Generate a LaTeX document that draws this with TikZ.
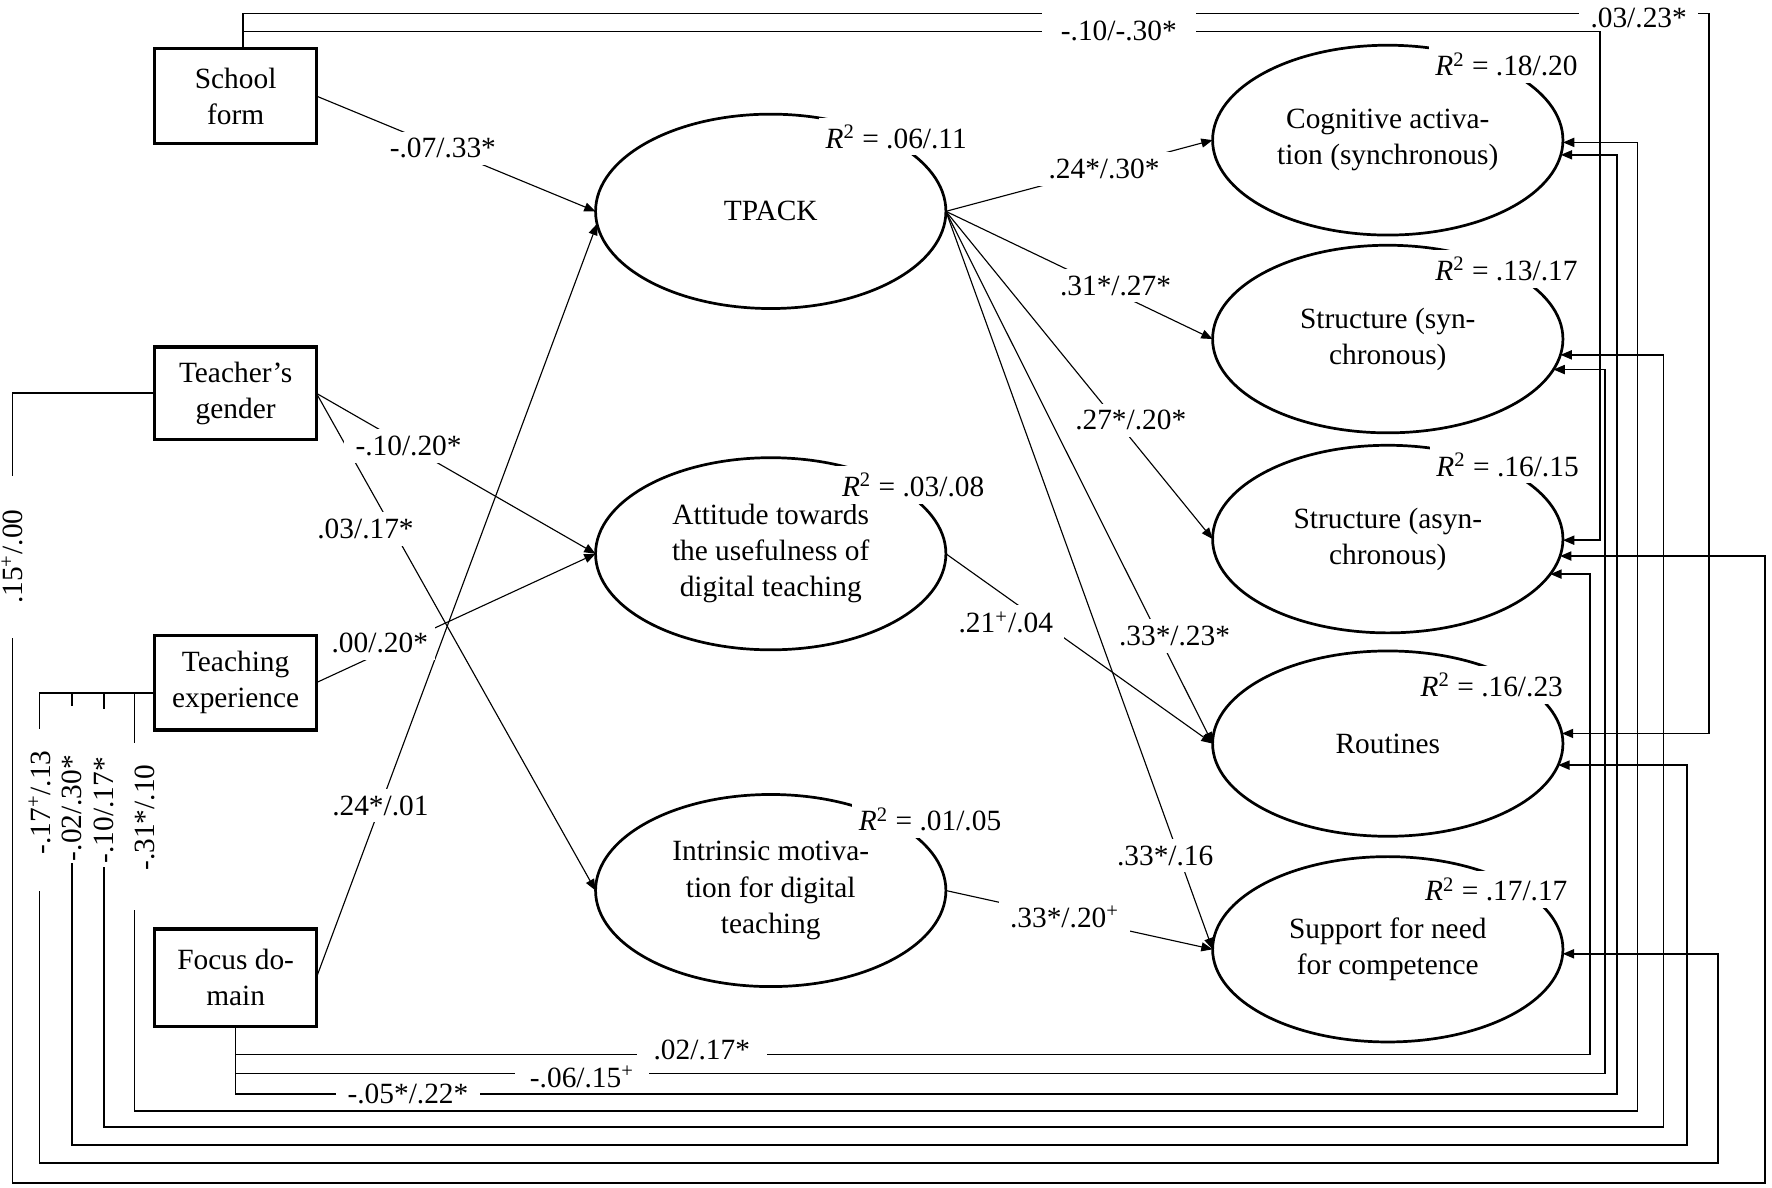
\documentclass[tikz,border=0pt]{standalone}
\usepackage{fontspec}
\setmainfont{Liberation Serif}
\usetikzlibrary{arrows.meta,shapes.geometric,calc}
\newcommand{\vlab}[3]{\hspace*{#1}#2\hspace*{#3}}
\begin{document}
\begin{tikzpicture}[x=0.5pt,y=0.5pt,
  every node/.style={font=\fontsize{13}{16}\selectfont},
  box/.style={draw,line width=1.4pt,minimum width=71.5pt,minimum height=42pt,align=center,inner sep=0pt,outer sep=0pt},
  lat/.style={draw,ellipse,line width=1.2pt,minimum width=155pt,align=center,inner sep=0pt,outer sep=0pt},
  pth/.style={line width=0.5pt,-{Triangle[length=5pt,width=4pt]}},
  cor/.style={line width=0.75pt,-{Triangle[length=5pt,width=4pt]}},
  lbl/.style={fill=white,inner xsep=5pt,inner ysep=3pt},
  rsq/.style={fill=white,inner sep=3pt},
  blbl/.style={fill=white,inner ysep=0.5pt},
  vlbl/.style={fill=white,rotate=90,inner xsep=1pt,inner ysep=2.5pt},
]
\useasboundingbox (0,0) rectangle (1568,-1051);

% observed variables
\node[box] (school) at (208.5,-85) {School\\form};
\node[box,minimum height=41pt] (gender) at (208.5,-348) {Teacher’s\\gender};
\node[box] (exper) at (208.5,-604) {Teaching\\experience};
\node[box,minimum height=43pt] (focus) at (208.5,-865) {Focus do-\\main};

% latent variables
\node[lat,minimum height=86pt] (tpack) at (682,-187) {TPACK};
\node[lat,minimum height=85pt] (att) at (682,-490) {Attitude towards\\the usefulness of\\digital teaching};
\node[lat,minimum height=85pt] (intr) at (682,-788) {Intrinsic motiva-\\tion for digital\\teaching};
\node[lat,minimum height=84pt] (cog) at (1228,-124) {Cognitive activa-\\tion (synchronous)};
\node[lat,minimum height=83pt] (ss) at (1228,-300) {Structure (syn-\\chronous)};
\node[lat,minimum height=83pt] (sa) at (1228,-477) {Structure (asyn-\\chronous)};
\node[lat,minimum height=82pt] (rout) at (1228,-658) {Routines};
\node[lat,minimum height=82pt] (supp) at (1228,-840) {Support for need\\for competence};

% path arrows
\coordinate (tpT) at ($(tpack.center)+(-153.7,-11)$);
\draw[pth] (school.east) -- (tpack.west);
\draw[pth] (focus.east) -- (tpT);
\draw[pth] (gender.east) -- (att.west);
\draw[pth] (gender.east) -- (intr.west);
\draw[pth] (exper.east) -- (att.west);
\draw[pth] (tpack.east) -- (cog.west);
\draw[pth] (tpack.east) -- (ss.west);
\draw[pth] (tpack.east) -- (sa.west);
\draw[pth] (tpack.east) -- (rout.west);
\draw[pth] (tpack.east) -- (supp.west);
\draw[pth] (att.east) -- (rout.west);
\draw[pth] (intr.east) -- (supp.west);

% correlation connectors
\coordinate (sT) at ($(school.north)+(6.5,0)$);
\coordinate (eW) at ($(exper.west)+(0,-9)$);
\draw[cor] (sT) |- (1512,-12) |- ($(rout.center)+(154.1,9)$);
\node[fill=white,inner xsep=5pt,inner ysep=0pt] (c1l) at (1450,-16) {.03/.23*};
\draw[cor] (sT) |- (1416,-28) |- ($(sa.center)+(155,-1)$);
\draw[cor] (gender.west) -| (11,-1047) -| (1562,-492) -- ($(sa.center)+(152.4,-15)$);
\draw[cor] (eW) -| (35,-1029) -| (1520,-844) -- ($(supp.center)+(154.8,-4)$);
\draw[cor] (eW) -| (64,-1013) -| (1493,-677) -- ($(rout.center)+(150.8,-19)$);
\draw[cor] (eW) -| (92,-997) -| (1472,-314) -- ($(ss.center)+(152.8,-14)$);
\draw[cor] (eW) -| (119,-983) -| (1449,-126) -- ($(cog.center)+(155,-2)$);
\draw[cor] (focus.south) |- (1407,-933) |- ($(sa.center)+(143.8,-31)$);
\draw[cor] (focus.south) |- (1420,-950) |- ($(ss.center)+(146.6,-27)$);
\draw[cor] (focus.south) |- (1431,-968) |- ($(cog.center)+(153.1,-13)$);

% path labels
\node[lbl] (l1) at ($(school.east)!0.453!(tpack.west)$) {-.07/.33*};
\node[lbl] (l2) at ($(focus.east)!0.228!(tpT)$) {.24*/.01};
\node[lbl] (l3) at ($(gender.east)!0.33!(att.west)$) {-.10/.20*};
\node[lbl,xshift=-12pt] (l4) at ($(gender.east)!0.273!(intr.west)$) {.03/.17*};
\node[lbl,inner xsep=3pt,yshift=4.5pt] (l5) at ($(exper.east)!0.227!(att.west)$) {.00/.20*};
\node[lbl] (l6) at ($(tpack.east)!0.593!(cog.west)$) {.24*/.30*};
\node[lbl,yshift=3pt] (l7) at ($(tpack.east)!0.636!(ss.west)$) {.31*/.27*};
\node[lbl,xshift=6.5pt] (l8) at ($(tpack.east)!0.638!(sa.west)$) {.27*/.20*};
\node[lbl,xshift=7pt] (l9) at ($(tpack.east)!0.798!(rout.west)$) {.33*/.23*};
\node[lbl,xshift=-6pt] (l10) at ($(tpack.east)!0.873!(supp.west)$) {.33*/.16};
\node[lbl,yshift=-11.5pt] (l11) at ($(att.east)!0.2246!(rout.west)$) {.21\textsuperscript{+}/.04};
\node[lbl] (l12) at ($(intr.east)!0.445!(supp.west)$) {.33*/.20\textsuperscript{+}};

% R squared
\node[rsq] (r1) at (793,-121) {\textit{R}\textsuperscript{2} = .06/.11};
\node[rsq] (r2) at (808,-429) {\textit{R}\textsuperscript{2} = .03/.08};
\node[rsq] (r3) at (823,-725) {\textit{R}\textsuperscript{2} = .01/.05};
\node[rsq] (r4) at (1333,-57) {\textit{R}\textsuperscript{2} = .18/.20};
\node[rsq] (r5) at (1333,-238) {\textit{R}\textsuperscript{2} = .13/.17};
\node[rsq] (r6) at (1334,-411) {\textit{R}\textsuperscript{2} = .16/.15};
\node[rsq] (r7) at (1320,-606) {\textit{R}\textsuperscript{2} = .16/.23};
\node[rsq] (r8) at (1324,-787) {\textit{R}\textsuperscript{2} = .17/.17};

% correlation labels
\node[fill=white,inner xsep=8.5pt,minimum height=22pt] (c2l) at (990,-27) {-.10/-.30*};
\node[vlbl,inner xsep=15pt] (c3l) at (11,-492.5) {.15\textsuperscript{+}/.00};
\node[vlbl] (c4l) at (35,-716.5) {\vlab{15pt}{-.17\textsuperscript{+}/.13}{8.5pt}};
\node[vlbl] (c5l) at (64,-694.5) {\vlab{0pt}{-.02/.30*}{20.5pt}};
\node[vlbl] (c6l) at (92,-697) {\vlab{0.5pt}{-.10/.17*}{20.5pt}};
\node[vlbl,inner ysep=3.5pt] (c7l) at (128,-731.5) {\vlab{16.5pt}{-.31*/.10}{8.5pt}};
\node[blbl,inner xsep=7.5pt] (c8l) at (621,-929) {.02/.17*};
\node[blbl,inner xsep=6.5pt] (c9l) at (515,-953) {-.06/.15\textsuperscript{+}};
\node[blbl,inner xsep=5pt] (c10l) at (361,-968) {-.05*/.22*};
\end{tikzpicture}
\end{document}
